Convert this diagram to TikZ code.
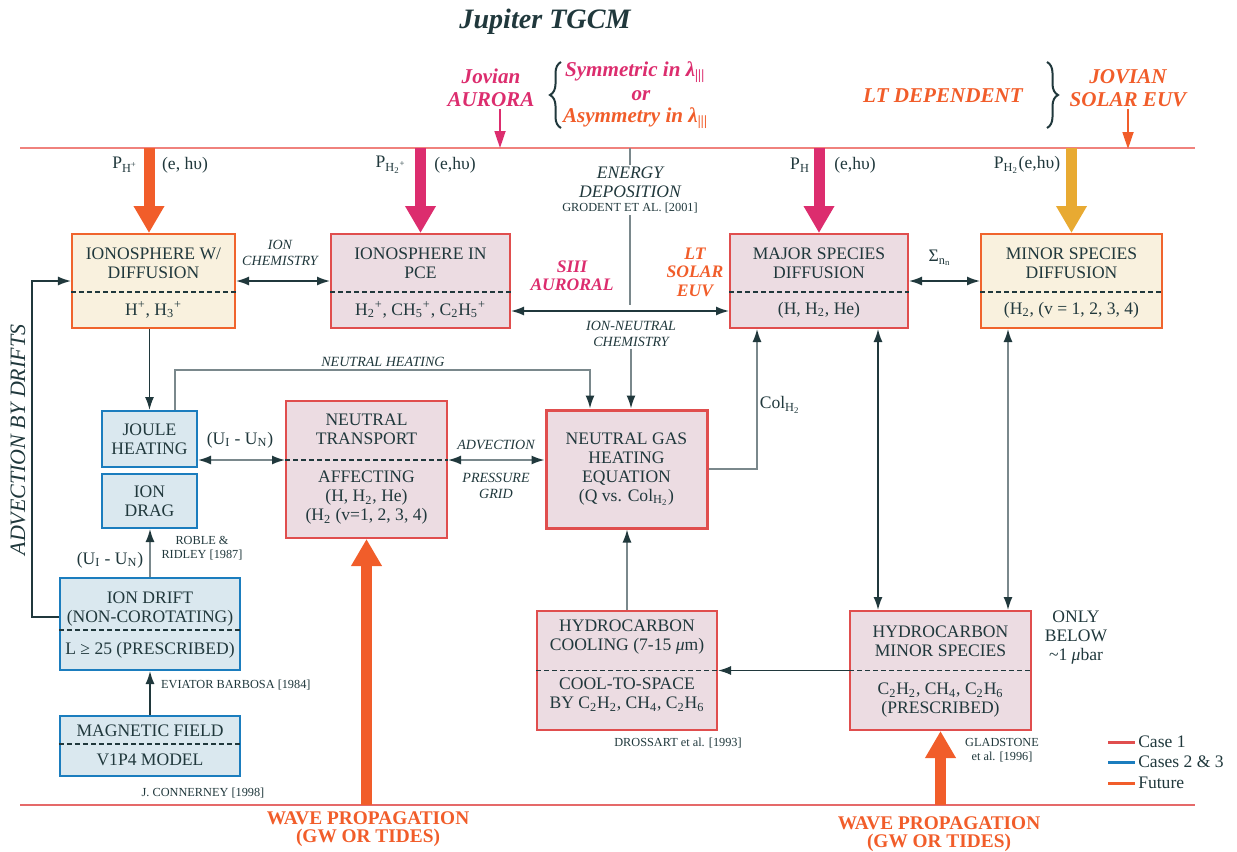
\documentclass[tikz,border=0pt]{standalone}
\usepackage{fontspec}
\setmainfont{Liberation Serif}
\usepackage{tikz}
\usetikzlibrary{arrows.meta, decorations.pathreplacing}
\definecolor{ink}{RGB}{32,56,60}
\definecolor{wire}{RGB}{122,136,140}
\definecolor{redline}{RGB}{224,78,78}
\definecolor{blueline}{RGB}{27,125,190}
\definecolor{orangeline}{RGB}{240,100,45}
\definecolor{pinkfill}{RGB}{236,220,226}
\definecolor{bluefill}{RGB}{218,232,239}
\definecolor{creamfill}{RGB}{249,241,222}
\definecolor{solar}{RGB}{241,93,42}
\definecolor{auroral}{RGB}{220,45,110}
\definecolor{gold}{RGB}{232,170,50}
\definecolor{rim}{RGB}{240,130,125}
\newcommand*{\sbs}[1]{\textsubscript{#1}}
\newcommand*{\sps}[1]{\textsuperscript{#1}}
\newcommand*{\lamIII}{\textbf{λ}\sbs{|||}}
\tikzset{>={Latex[length=2.6mm, width=1.8mm, color=ink]}}
\tikzstyle{block} = [draw, rectangle, line width=0.4mm, inner sep=0pt]
\tikzstyle{caseone} = [block, draw=redline, fill=pinkfill]
\tikzstyle{casetwo} = [block, draw=blueline, fill=bluefill]
\tikzstyle{future} = [block, draw=orangeline, fill=creamfill]
\tikzstyle{divider} = [line width=0.3mm, dash pattern=on 1mm off 0.6mm]
\tikzstyle{note} = [font=\fontsize{8}{9}\selectfont\itshape]
\tikzstyle{citation} = [font=\fontsize{7}{7.8}\selectfont]
\tikzstyle{loud} = [font=\fontsize{12}{13}\selectfont\bfseries\itshape]
\tikzstyle{tag} = [font=\fontsize{10}{10.5}\selectfont\bfseries\itshape]
\tikzstyle{wave} = [font=\fontsize{11}{10}\selectfont\bfseries, text=solar]
\tikzstyle{beam} = [line width=2.2mm, -{Triangle[length=5.4mm, width=5.8mm]}]
\tikzstyle{drop} = [line width=0.35mm, -{Triangle[length=3.4mm, width=2.2mm]}]
\tikzstyle{flow} = [->, line width=0.3mm]
\tikzstyle{both} = [<->, line width=0.3mm]
\tikzstyle{brace} = [decorate, decoration={brace, amplitude=2.2mm}, line width=0.4mm]
\tikzstyle{boundary} = [line width=0.4mm]
\tikzstyle{key} = [line width=0.6mm]

\begin{document}
\begin{tikzpicture}[x=0.2mm, y=-0.2mm, color=ink, inner sep=1pt, align=center,
        font=\fontsize{10}{10.8}\selectfont]
    \useasboundingbox (0, 0) rectangle (1237, 851);

    % Title and sources.
    \node (title) [font=\fontsize{16}{18}\selectfont\bfseries\itshape] at (545, 22) {Jupiter TGCM};
    \node (jovian aurora) [loud, text=auroral] at (491, 88) {Jovian\\AURORA};
    \node (symmetric) [loud, text=auroral, anchor=west] at (563, 72) {Symmetric in \lamIII};
    \node (or) [loud, text=auroral] at (641, 96) {or};
    \node (asymmetry) [loud, text=solar, anchor=west] at (561, 118) {Asymmetry in \lamIII};
    \node (lt dependent) [loud, text=solar] at (943, 96) {LT DEPENDENT};
    \node (jovian euv) [loud, text=solar] at (1128, 88) {JOVIAN\\SOLAR EUV};
    \draw [brace] (561, 128) -- (561, 62);
    \draw [brace] (1047, 62) -- (1047, 128);

    \coordinate (top left) at (20, 148);
    \coordinate (top right) at (1195, 148);
    \coordinate (bottom left) at (20, 805);
    \coordinate (bottom right) at (1195, 805);
    \coordinate (aurora in) at (500, 148);
    \coordinate (solar in) at (1128, 149);
    \draw [boundary, rim] (top left) -- (top right);
    \draw [boundary, redline!85] (bottom left) -- (bottom right);
    \draw [drop, auroral] (jovian aurora.south -| aurora in) -- (aurora in);
    \draw [drop, solar] (jovian euv.south -| solar in) -- (solar in);

    % Boxes.
    \node (ionw) [future, minimum width=32.6mm, minimum height=18.8mm] at (153.5, 281) {};
    \node (ionpce) [caseone, minimum width=35.8mm, minimum height=18.8mm] at (420.5, 281) {};
    \node (major) [caseone, minimum width=35.6mm, minimum height=18.8mm] at (819, 281) {};
    \node (minor) [future, minimum width=36.2mm, minimum height=18.8mm] at (1071.5, 281) {};
    \node (joule) [casetwo, minimum width=19mm, minimum height=11.2mm] at (149.5, 439) {};
    \node (ion drag) [casetwo, minimum width=19mm, minimum height=10.8mm] at (149.5, 501) {};
    \node (transport) [caseone, minimum width=32.2mm, minimum height=27.4mm] at (366.5, 469.5) {};
    \node (gas heat) [caseone, line width=0.6mm, minimum width=32.2mm, minimum height=23.6mm] at (626.5, 469) {};
    \node (ion drift) [casetwo, minimum width=36mm, minimum height=18.4mm] at (150, 624) {};
    \node (mag field) [casetwo, minimum width=36mm, minimum height=12mm] at (150, 746) {};
    \node (hc cool) [caseone, minimum width=36mm, minimum height=23.8mm] at (627, 670.5) {};
    \node (hc minor) [caseone, minimum width=36.2mm, minimum height=23.8mm] at (940.5, 670.5) {};

    % Dividers.
    \draw [divider] ([yshift=-2.2mm]ionw.west) -- ([yshift=-2.2mm]ionw.east);
    \draw [divider] ([yshift=-2.2mm]ionpce.west) -- ([yshift=-2.2mm]ionpce.east);
    \draw [divider] ([yshift=-2.2mm]major.west) -- ([yshift=-2.2mm]major.east);
    \draw [divider] ([yshift=-2.2mm]minor.west) -- ([yshift=-2.2mm]minor.east);
    \draw [divider] ([yshift=1.9mm]transport.west) -- ([yshift=1.9mm]transport.east);
    \draw [divider] ([yshift=-1.2mm]ion drift.west) -- ([yshift=-1.2mm]ion drift.east);
    \draw [divider] ([yshift=0.4mm]mag field.west) -- ([yshift=0.4mm]mag field.east);
    \draw [divider] (hc cool.west) -- (hc cool.east);
    \draw [divider] (hc minor.west) -- (hc minor.east);

    % Box texts.
    \node (ionw head) at (153.5, 263) {IONOSPHERE W/\\DIFFUSION};
    \node (ionw body) at (153.5, 310) {H\sps{+}, H\sbs{3}\sps{+}};
    \node (ionpce head) at (420.5, 263) {IONOSPHERE IN\\PCE};
    \node (ionpce body) at (420.5, 310) {H\sbs{2}\sps{+}, CH\sbs{5}\sps{+}, C\sbs{2}H\sbs{5}\sps{+}};
    \node (major head) at (819, 263) {MAJOR SPECIES\\DIFFUSION};
    \node (major body) at (819, 310) {(H, H\sbs{2}, He)};
    \node (minor head) at (1071.5, 263) {MINOR SPECIES\\DIFFUSION};
    \node (minor body) at (1071.5, 310) {(H\sbs{2}, (v = 1, 2, 3, 4)};
    \node (joule text) at (149.5, 439) {JOULE\\HEATING};
    \node (ion drag text) at (149.5, 501) {ION\\DRAG};
    \node (transport head) at (366.5, 429) {NEUTRAL\\TRANSPORT};
    \node (transport body) at (366.5, 498) {AFFECTING\\(H, H\sbs{2}, He)\\(H\sbs{2} (v=1, 2, 3, 4)};
    \node (gas heat text) at (626.5, 469) {NEUTRAL GAS\\HEATING\\EQUATION\\(Q vs. Col\sbs{H\sbs{2}})};
    \node (ion drift head) at (150, 609) {ION DRIFT\\(NON-COROTATING)};
    \node (ion drift body) at (150, 650) {L ≥ 25 (PRESCRIBED)};
    \node (mag field head) at (150, 731) {MAGNETIC FIELD};
    \node (mag field body) at (150, 760) {V1P4 MODEL};
    \node (hc cool head) at (627, 637.5) {HYDROCARBON\\COOLING (7-15 \textit{μ}m)};
    \node (hc cool body) at (627, 695) {COOL-TO-SPACE\\BY C\sbs{2}H\sbs{2}, CH\sbs{4}, C\sbs{2}H\sbs{6}};
    \node (hc minor head) at (940.5, 641) {HYDROCARBON\\MINOR SPECIES};
    \node (hc minor body) at (940.5, 700.5) {C\sbs{2}H\sbs{2}, CH\sbs{4}, C\sbs{2}H\sbs{6}\\(PRESCRIBED)};

    % Labels.
    \node (ph plus) at (125, 165) {P\sbs{H\sps{+}}};
    \node (ph plus src) at (185, 165) {(e, hυ)};
    \node (ph2 plus) at (391, 165) {P\sbs{H\sbs{2}\sps{+}}};
    \node (ph2 plus src) at (455, 165) {(e,hυ)};
    \node (ph) at (800, 165) {P\sbs{H}};
    \node (ph src) at (855, 165) {(e,hυ)};
    \node (ph2) at (1027, 165) {P\sbs{H\sbs{2}}(e,hυ)};
    \node (energy) [font=\fontsize{10}{10.8}\selectfont\itshape] at (630, 182) {ENERGY\\DEPOSITION};
    \node (grodent) [citation] at (630, 208) {GRODENT ET AL. [2001]};
    \coordinate (deposition end) at (630, 305);
    \node (siii) [tag, text=auroral] at (572, 276) {SIII\\AURORAL};
    \node (lt solar) [tag, text=solar] at (695, 272) {LT\\SOLAR\\EUV};
    \node (ion chem) [note] at (280, 253) {ION\\CHEMISTRY};
    \node (ion neutral) [note] at (631, 334) {ION-NEUTRAL\\CHEMISTRY};
    \node (sigma) at (940, 258) {Σ\sbs{n\sbs{n}}};
    \node (neutral heating) [note] at (383, 362) {NEUTRAL HEATING};
    \node (ui un top) at (240, 440) {(U\sbs{I} - U\sbs{N})};
    \node (advection) [note] at (496, 445) {ADVECTION};
    \node (pressure grid) [note] at (496, 486) {PRESSURE\\GRID};
    \node (col) at (780, 405) {Col\sbs{H\sbs{2}}};
    \node (ui un low) at (110, 560) {(U\sbs{I} - U\sbs{N})};
    \node (roble) [citation] at (202, 548) {ROBLE \&\\RIDLEY [1987]};
    \node (eviator) [citation, anchor=west] at (159, 685) {EVIATOR BARBOSA [1984]};
    \node (connerney) [citation] at (203, 793) {J. CONNERNEY [1998]};
    \node (drossart) [citation] at (678, 743) {DROSSART et al. [1993]};
    \node (gladstone) [citation] at (1002, 750) {GLADSTONE\\et al. [1996]};
    \node (only below) at (1076, 638) {ONLY\\BELOW\\\textasciitilde1 \textit{μ}bar};
    \node (drifts) [rotate=90, font=\fontsize{12.5}{13}\selectfont\itshape] at (18, 440) {ADVECTION BY DRIFTS};
    \node (wave left) [wave] at (368, 829) {WAVE PROPAGATION\\(GW OR TIDES)};
    \node (wave right) [wave] at (939, 834) {WAVE PROPAGATION\\(GW OR TIDES)};

    % Heating inputs.
    \draw [beam, solar] ([xshift=-0.9mm]ionw.north |- top left) -- ([xshift=-0.9mm]ionw.north);
    \draw [beam, auroral] (ionpce.north |- top left) -- (ionpce.north);
    \draw [beam, auroral] (major.north |- top left) -- (major.north);
    \draw [beam, gold] (minor.north |- top left) -- (minor.north);
    \draw [beam, solar] (transport.south |- bottom left) -- (transport.south);
    \draw [beam, solar] (hc minor.south |- bottom left) -- (hc minor.south);
    \draw [line width=0.3mm, wire] (energy.north |- top left) -- (energy.north);
    \draw [line width=0.3mm, wire] (grodent.south) -- (deposition end);

    % Paths.
    \draw [both] (ionw.east) -- (ionpce.west);
    \draw [both] ([yshift=-6mm]ionpce.east) -- ([yshift=-6mm]major.west);
    \draw [both] (major.east) -- (minor.west);
    \draw [flow] (joule.north |- ionw.south) -- (joule.north);
    \draw [flow, wire] (ion neutral.south) -- (ion neutral.south |- gas heat.north);
    \draw [flow, wire] ([xshift=5.1mm]joule.north) -- ++(0, -40) -| ([xshift=-7.3mm]gas heat.north);
    \draw [both, wire] ([yshift=-4.2mm]joule.east) -- ([yshift=-4.2mm]joule.east -| transport.west);
    \draw [both, wire] ([yshift=1.9mm]transport.east) -- ([yshift=1.9mm]transport.east -| gas heat.west);
    \draw [flow, wire] (gas heat.east) -| ([xshift=-12.4mm]major.south);
    \draw [both] ([xshift=11.8mm]major.south) -- ([xshift=11.8mm]major.south |- hc minor.north);
    \draw [both, wire] ([xshift=-12.7mm]minor.south) -- ([xshift=-12.7mm]minor.south |- hc minor.north);
    \draw [flow] (hc minor.west) -- (hc cool.east);
    \draw [flow, wire] (hc cool.north) -- (hc cool.north |- gas heat.south);
    \draw [flow, wire] (ion drift.north) -- (ion drift.north |- ion drag.south);
    \draw [flow] (mag field.north) -- (ion drift.south);
    \draw [flow] ([yshift=1.4mm]ion drift.west) -- ++(-27, 0) |- (ionw.west);

    % Legend.
    \draw [key, redline] (1108, 742) -- ++(27, 0) node (case one) [anchor=west, text=ink] {Case 1};
    \draw [key, blueline] (1108, 762) -- ++(27, 0) node (case two) [anchor=west, text=ink] {Cases 2 \& 3};
    \draw [key, solar] (1108, 783) -- ++(27, 0) node (future key) [anchor=west, text=ink] {Future};
\end{tikzpicture}
\end{document}
